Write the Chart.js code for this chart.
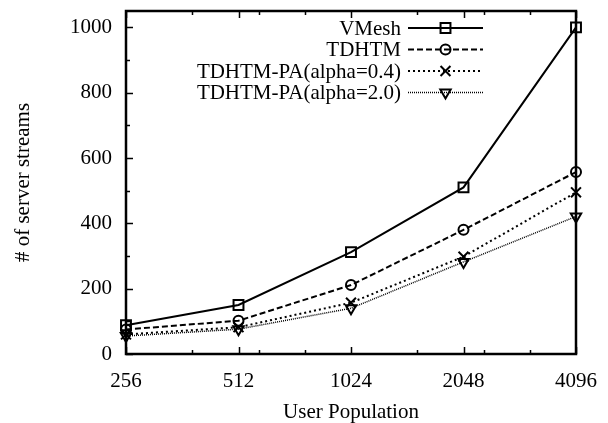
<!DOCTYPE html>
<html>
<head>
<meta charset="utf-8">
<script src="https://cdn.jsdelivr.net/npm/chart.js@4"></script>
<style>
  html, body { margin: 0; padding: 0; background: #fff; }
  canvas { display: block; }
</style>
</head>
<body>
<canvas id="chart" width="608" height="423"></canvas>
<script>
// data
var populations = ['256', '512', '1024', '2048', '4096'];
var vmesh = [88, 150, 312, 510, 1000];
var tdhtm = [75, 102, 211, 380, 557];
var tdhtmPa04 = [60, 82, 157, 298, 495];
var tdhtmPa20 = [55, 76, 140, 282, 421];
var yTicks = [0, 200, 400, 600, 800, 1000];

var FONT = { family: '"Liberation Serif", "DejaVu Serif", serif', size: 21, lineHeight: 1 };

function series(label, data, opts) {
    return Object.assign({
        label: label,
        data: data,
        borderColor: '#000',
        backgroundColor: 'transparent',
        pointBorderColor: '#000',
        pointBackgroundColor: 'transparent',
        pointBorderWidth: 2,
        borderWidth: 2,
        tension: 0,
        fill: false
    }, opts);
}

var datasets = [
    series('VMesh', vmesh, { pointStyle: 'rect', pointRadius: 7 }),
    series('TDHTM', tdhtm, { borderDash: [6, 3], pointStyle: 'circle', pointRadius: 5 }),
    series('TDHTM-PA(alpha=0.4)', tdhtmPa04, { borderDash: [2, 3], pointStyle: 'crossRot', pointRadius: 7 }),
    series('TDHTM-PA(alpha=2.0)', tdhtmPa20, { borderDash: [1, 1], borderWidth: 1.5, pointStyle: 'triangle', pointRotation: 180, pointRadius: 6 })
];

// gnuplot style frame, inward ticks and the legend box
var gnuplotFrame = {
    id: 'gnuplotFrame',
    afterDatasetsDraw: function(chart) {
        var ctx = chart.ctx, a = chart.chartArea;
        var x = chart.scales.x, y = chart.scales.y;
        ctx.save();
        ctx.strokeStyle = '#000';
        ctx.lineWidth = 1.5;
        ctx.beginPath();
        // y ticks on the left, major every 200, minor every 100
        for (var v = 0; v <= 1000; v += 100) {
            var py = Math.round(y.getPixelForValue(v)) + 0.5;
            var len = v % 200 === 0 ? 7 : 4;
            ctx.moveTo(a.left, py); ctx.lineTo(a.left + len, py);
        }
        // x ticks, bottom and top
        var minor = [0.59, 1.18, 1.59, 2.59, 3.18, 3.59];
        for (var i = 0; i < populations.length; i++) {
            var px = Math.round(x.getPixelForValue(i)) + 0.5;
            ctx.moveTo(px, a.bottom); ctx.lineTo(px, a.bottom - 7);
            ctx.moveTo(px, a.top); ctx.lineTo(px, a.top + 7);
        }
        minor.forEach(function(m) {
            var px = Math.round(x.getPixelForValue(0) + m * (x.getPixelForValue(1) - x.getPixelForValue(0))) + 0.5;
            ctx.moveTo(px, a.bottom); ctx.lineTo(px, a.bottom - 4);
            ctx.moveTo(px, a.top); ctx.lineTo(px, a.top + 4);
        });
        ctx.stroke();
        ctx.lineWidth = 2.5;
        ctx.strokeRect(a.left, a.top, a.right - a.left, a.bottom - a.top);

        // legend
        ctx.font = FONT.size + 'px ' + FONT.family;
        ctx.fillStyle = '#000';
        ctx.textAlign = 'right';
        ctx.textBaseline = 'middle';
        chart.data.datasets.forEach(function(ds, k) {
            var meta = chart.getDatasetMeta(k);
            var opts = meta.dataset.options;
            var ry = a.top + 17 + k * 21.5;
            var x0 = a.right - 168, x1 = a.right - 93;
            ctx.fillText(ds.label, a.right - 175, ry + 1);
            ctx.save();
            ctx.lineWidth = opts.borderWidth;
            ctx.setLineDash(opts.borderDash || []);
            ctx.beginPath();
            ctx.moveTo(x0, ry); ctx.lineTo(x1, ry);
            ctx.stroke();
            ctx.restore();
            var po = meta.data[0].options;
            ctx.save();
            ctx.lineWidth = po.borderWidth;
            ctx.strokeStyle = '#000';
            ctx.fillStyle = 'transparent';
            Chart.helpers.drawPoint(ctx, {
                pointStyle: po.pointStyle, radius: po.radius,
                rotation: po.rotation, borderWidth: po.borderWidth
            }, (x0 + x1) / 2, ry);
            ctx.restore();
        });
        ctx.restore();
    }
};

new Chart(document.getElementById('chart').getContext('2d'), {
    type: 'line',
    data: { labels: populations, datasets: datasets },
    options: {
        responsive: false,
        animation: false,
        devicePixelRatio: 1,
        layout: { padding: { left: 0, top: 11, right: 32, bottom: 0 } },
        plugins: { legend: { display: false }, tooltip: { enabled: false } },
        scales: {
            x: {
                type: 'category',
                offset: false,
                grid: { display: false, drawTicks: false },
                border: { display: false },
                ticks: { color: '#000', font: FONT, padding: 17, maxRotation: 0 },
                title: { display: true, text: 'User Population', color: '#000', font: FONT, padding: { top: 0, bottom: 0 } },
                afterFit: function(s) {
                    s.height = 69;
                    s.paddingLeft = 0;
                    s.paddingRight = 0;
                }
            },
            y: {
                min: 0,
                max: 1050,
                grid: { display: false, drawTicks: false },
                border: { display: false },
                ticks: {
                    color: '#000', font: FONT, padding: 14,
                    callback: function(v) { return String(v); }
                },
                afterBuildTicks: function(s) { s.ticks = yTicks.map(function(v) { return { value: v }; }); },
                title: { display: true, text: '# of server streams', color: '#000', font: FONT, padding: { top: 13, bottom: 0 } },
                afterFit: function(s) {
                    s.width = 126;
                    s.paddingTop = 0;
                    s.paddingBottom = 0;
                }
            }
        }
    },
    plugins: [gnuplotFrame]
});
</script>
</body>
</html>
